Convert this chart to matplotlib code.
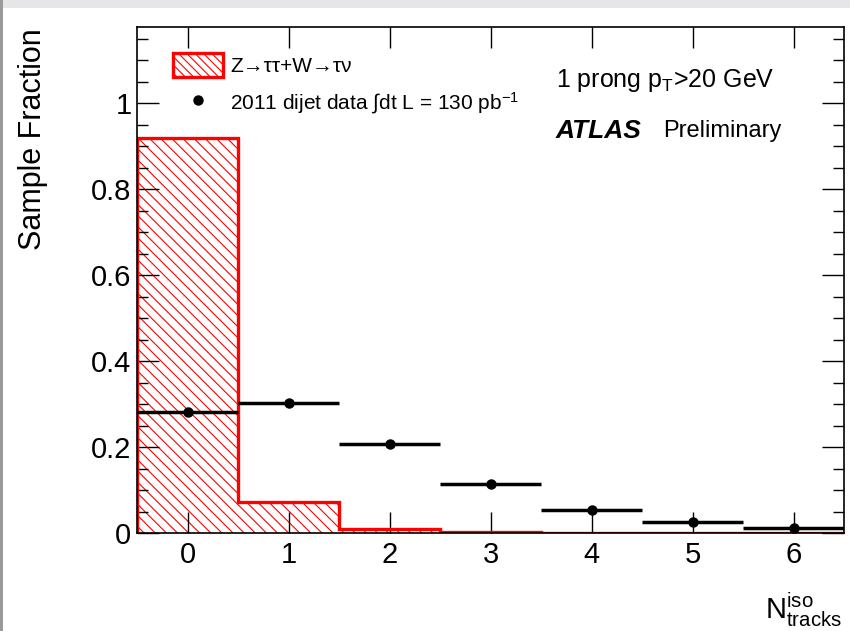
import matplotlib
matplotlib.use("Agg")
import matplotlib.pyplot as plt
import numpy as np
from matplotlib.patches import Patch, Rectangle
from matplotlib.lines import Line2D

plt.rcParams['font.family'] = ['Liberation Sans', 'DejaVu Sans']
plt.rcParams['hatch.linewidth'] = 0.8
plt.rcParams['mathtext.fontset'] = 'custom'
plt.rcParams['mathtext.rm'] = 'Liberation Sans'
plt.rcParams['mathtext.it'] = 'Liberation Sans'

# data
n_tracks = [0, 1, 2, 3, 4, 5, 6]
signal_frac = [0.919, 0.072, 0.0093, 0.003, 0.001, 0.001, 0.001]
data_frac = [0.281, 0.303, 0.208, 0.114, 0.0535, 0.0256, 0.0116]
x_ticklabels = ['0', '1', '2', '3', '4', '5', '6']
y_ticks = [0, 0.2, 0.4, 0.6, 0.8, 1.0]
y_ticklabels = ['0', '0.2', '0.4', '0.6', '0.8', '1']

W, H = 850, 631
fig = plt.figure(figsize=(W / 100, H / 100), dpi=100)
fig.patch.set_facecolor('white')
# thin grey window border
fig.add_artist(Rectangle((0, 1 - 8 / H), 1, 8 / H, transform=fig.transFigure,
                         facecolor='#e6e6e9', edgecolor='none', zorder=0))
fig.add_artist(Rectangle((0, 0), 3 / W, 1, transform=fig.transFigure,
                         facecolor='#9a9a9a', edgecolor='none', zorder=0))

left, right, top, bottom = 137, 844, 27, 533
ax = fig.add_axes([left / W, (H - bottom) / H, (right - left) / W, (bottom - top) / H])

x = np.array(n_tracks, dtype=float)
edges = np.append(x - 0.5, x[-1] + 0.5)

# hatched signal histogram
ax.bar(x, signal_frac, width=1.0, color='none', edgecolor='red', hatch='\\\\\\',
       linewidth=0, zorder=1)
ax.stairs(signal_frac, edges, color='red', linewidth=2.4, baseline=0, zorder=2)

# data points with horizontal bin-width bars
ax.errorbar(x, data_frac, xerr=0.5, fmt='o', color='black', markersize=6.5,
            elinewidth=2.5, capsize=0, zorder=3)

ax.set_xlim(-0.5, 6.5)
ax.set_ylim(0, 1.177)
ax.set_xticks(x)
ax.set_xticklabels(x_ticklabels)
ax.set_yticks(y_ticks)
ax.set_yticklabels(y_ticklabels)
ax.set_yticks(np.arange(0, 1.18, 0.05), minor=True)

ax.tick_params(axis='both', which='both', direction='in', top=True, right=True,
               labelsize=21, colors='black')
ax.tick_params(axis='y', which='major', length=16, width=1.0, pad=4)
ax.tick_params(axis='y', which='minor', length=8, width=1.0)
ax.tick_params(axis='x', which='major', length=15, width=1.0, pad=6)
for s in ax.spines.values():
    s.set_linewidth(1.2)

fig.text(33 / W, 1 - 28 / H, 'Sample Fraction', fontsize=22, rotation=90,
         ha='center', va='top')

fig.text(765 / W, 1 - 610 / H, r'$\mathregular{N^{iso}_{tracks}}$', fontsize=21,
         ha='left', va='center')

# legend
handles = [Patch(facecolor='none', edgecolor='red', hatch='\\\\\\\\', linewidth=2.4),
           Line2D([], [], marker='o', color='black', linestyle='none', markersize=6.5)]
labels = ['Z\u2192\u03c4\u03c4+W\u2192\u03c4\u03bd',
          r'2011 dijet data $\int$dt L = 130 pb$^{\mathregular{-1}}$']
ax.legend(handles, labels, loc='upper left', bbox_to_anchor=(0.039, 0.965),
          frameon=False, fontsize=15, handlelength=2.4, handleheight=1.4,
          handletextpad=0.35, labelspacing=0.62, borderaxespad=0)

ax.text(556 / W, 1 - 81 / H, r'1 prong p$_{\mathregular{T}}$>20 GeV', transform=fig.transFigure,
        fontsize=18, ha='left', va='center')
ax.text(556 / W, 1 - 131 / H, 'ATLAS', transform=fig.transFigure, fontsize=19,
        fontweight='bold', fontstyle='italic', ha='left', va='center')
ax.text(663 / W, 1 - 131 / H, 'Preliminary', transform=fig.transFigure, fontsize=17,
        ha='left', va='center')

fig.savefig('out.png', dpi=100)
